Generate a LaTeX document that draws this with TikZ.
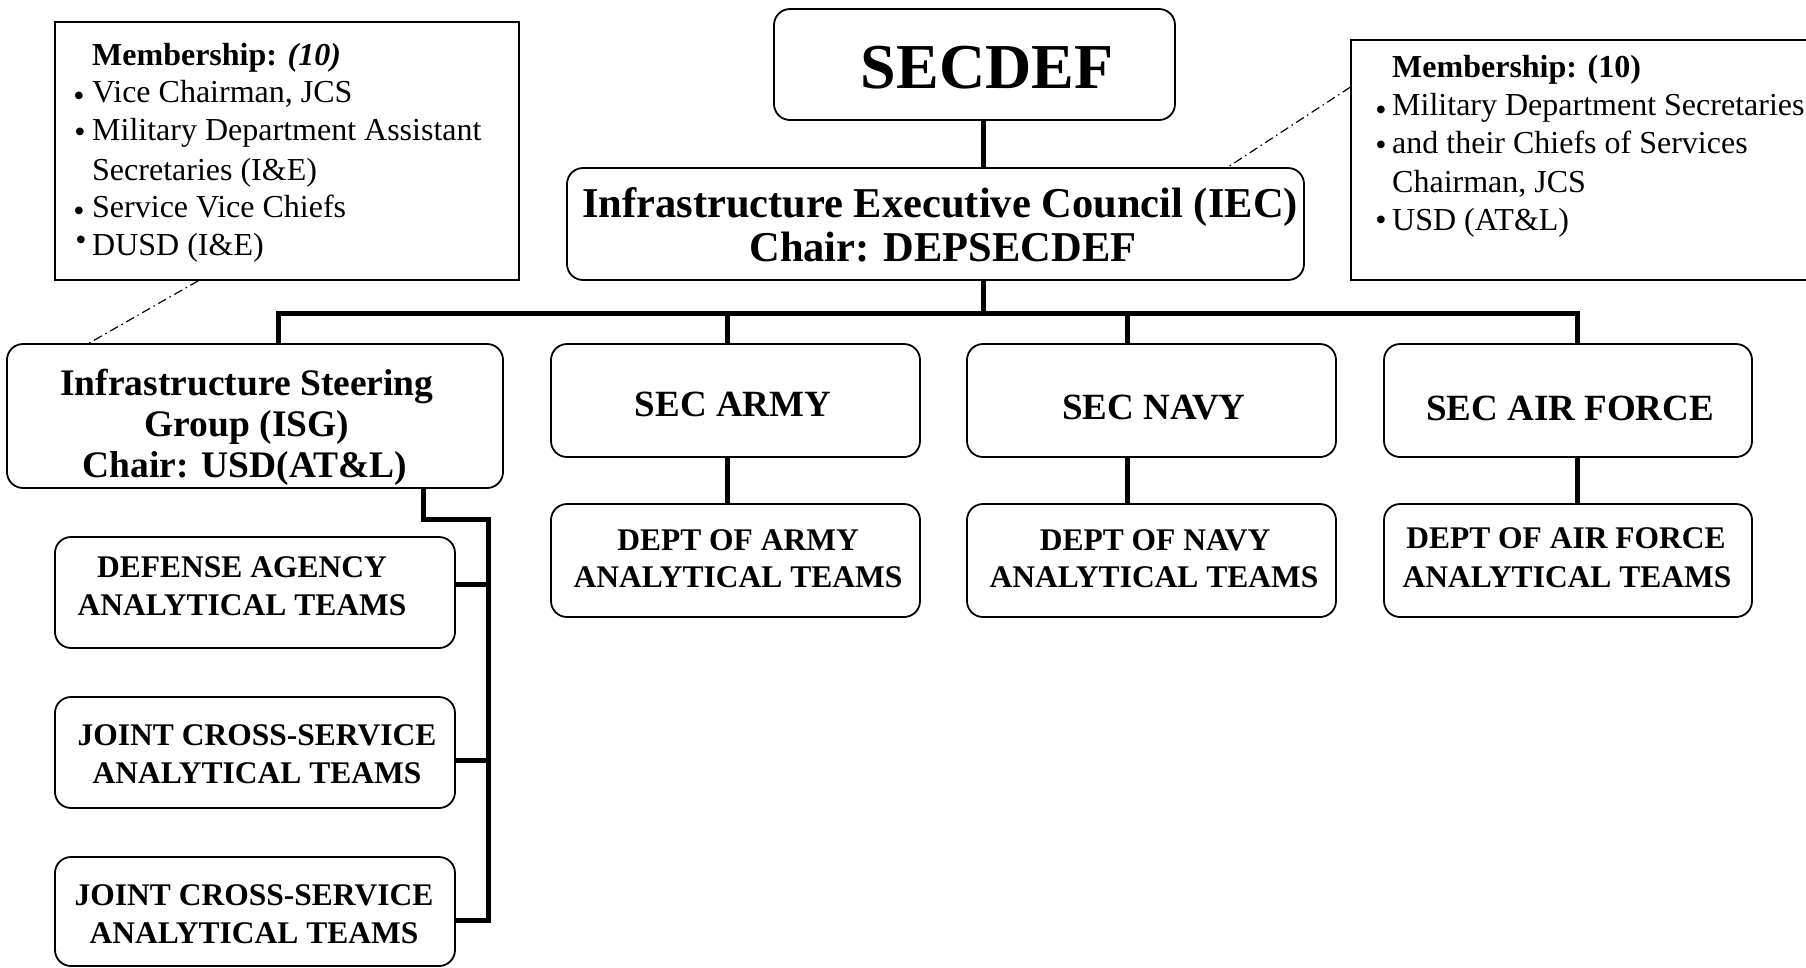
\documentclass[tikz,border=0pt]{standalone}
\usepackage{fontspec}
\setmainfont{Liberation Serif}
\usetikzlibrary{calc}
\newcommand\fsecdef{\fontsize{64}{64}\selectfont\bfseries}
\newcommand\fiec{\fontsize{42.5}{44}\selectfont\bfseries}
\newcommand\fisg{\fontsize{37.5}{41}\selectfont\bfseries}
\newcommand\fsec{\fontsize{37}{40}\selectfont\bfseries}
\newcommand\fteam{\fontsize{31.5}{37}\selectfont\bfseries}
\newcommand\fmem{\fontsize{32}{38}\selectfont}
\newcommand\fbul{\fontsize{32}{32}\selectfont}
\begin{document}
\begin{tikzpicture}[x=1pt,y=-1pt,
  box/.style={draw, line width=1.8pt, rounded corners=16pt, inner sep=0pt, minimum width=369pt, minimum height=113pt},
  membox/.style={draw, line width=1.6pt, inner sep=0pt},
  conn/.style={line width=5pt},
  dd/.style={line width=1.2pt, dash pattern=on 9pt off 4pt on 1.5pt off 4pt},
  lbl/.style={anchor=base, inner sep=0pt},
  lft/.style={anchor=base west, inner sep=0pt, font=\fmem},
  bul/.style={anchor=base, inner sep=0pt, font=\fbul}]
\path[use as bounding box] (0,0) rectangle (1806,967);
\fill[white] (0,0) rectangle (1806,967);
\clip (0,0) rectangle (1806,967);

% boxes
\node[box, minimum width=401pt, minimum height=111pt] (secdef) at (974.5,64.5) {};
\node[box, minimum width=737pt, minimum height=112pt] (iec) at (935.5,224) {};
\node[box, minimum width=496pt, minimum height=144pt] (isg) at (255,416) {};
\node[box] (army) at (735.5,400.5) {};
\node[box] (navy) at (1151.5,400.5) {};
\node[box, minimum width=368pt] (airf) at (1568,400.5) {};
\node[box] (darmy) at (735.5,560.5) {};
\node[box] (dnavy) at (1151.5,560.5) {};
\node[box, minimum width=368pt] (dairf) at (1568,560.5) {};
\node[box, minimum width=400pt, minimum height=111pt] (defag) at (255,592.5) {};
\node[box, minimum width=400pt, minimum height=111pt] (jcs1) at (255,752.5) {};
\node[box, minimum width=400pt, minimum height=109pt] (jcs2) at (255,911.5) {};
\node[membox, minimum width=464pt, minimum height=258pt] (lmem) at (287,151) {};
\node[membox, minimum width=479pt, minimum height=240pt] (rmem) at (1590.5,160) {};

% connectors
\coordinate (spine) at (983,313);
\coordinate (barL) at (278,313);
\coordinate (barR) at (1577,313);
\coordinate (dA) at (727.5,313);
\coordinate (dN) at (1127.5,313);
\draw[conn] (secdef.south -| spine) -- (iec.north -| spine);
\draw[conn] (iec.south -| spine) -- (spine);
\draw[conn] (isg.north -| barL) -- (barL) -- (barR) -- (airf.north -| barR);
\draw[conn] (dA) -- (army.north -| dA);
\draw[conn] (dN) -- (navy.north -| dN);
\draw[conn] (army.south -| dA) -- (darmy.north -| dA);
\draw[conn] (navy.south -| dN) -- (dnavy.north -| dN);
\draw[conn] (airf.south -| barR) -- (dairf.north -| barR);
\coordinate (lsA) at (423,519);
\coordinate (lsB) at (488,519);
\coordinate (lsC) at (488,920);
\coordinate (br1) at (488,584);
\coordinate (br2) at (488,760);
\draw[conn] (isg.south -| lsA) -- (lsA) -- (lsB) -- (lsC) -- (jcs2.east |- lsC);
\draw[conn] (br1) -- (defag.east |- br1);
\draw[conn] (br2) -- (jcs1.east |- br2);

% dash-dot links
\draw[dd] ($(lmem.south west)+(144,0)$) -- ($(isg.north west)+(83,0)$);
\draw[dd] ($(rmem.north west)+(0,48)$) -- ($(iec.north east)+(-77,0)$);

% texts
\node[lbl, font=\fsecdef] (tsecdef) at (987,88) {SECDEF};
\node[lbl, font=\fiec] (tiec1) at (940,217) {Infrastructure Executive Council (IEC)};
\node[lbl, font=\fiec] (tiec2) at (943,261) {Chair: DEPSECDEF};
\node[lbl, font=\fisg] (tisg1) at (247,395) {Infrastructure Steering};
\node[lbl, font=\fisg] (tisg2) at (247,436) {Group (ISG)};
\node[lbl, font=\fisg] (tisg3) at (245,477) {Chair: USD(AT\&L)};
\node[lbl, font=\fsec] (tarmy) at (733,416) {SEC ARMY};
\node[lbl, font=\fsec] (tnavy) at (1154,419) {SEC NAVY};
\node[lbl, font=\fsec] (tairf) at (1570,420) {SEC AIR FORCE};
\node[lbl, font=\fteam] (tda1) at (738,550) {DEPT OF ARMY};
\node[lbl, font=\fteam] (tda2) at (738,587) {ANALYTICAL TEAMS};
\node[lbl, font=\fteam] (tdn1) at (1155,550) {DEPT OF NAVY};
\node[lbl, font=\fteam] (tdn2) at (1154,587) {ANALYTICAL TEAMS};
\node[lbl, font=\fteam] (tdf1) at (1566,548) {DEPT OF AIR FORCE};
\node[lbl, font=\fteam] (tdf2) at (1567,587) {ANALYTICAL TEAMS};
\node[lbl, font=\fteam] (tdef1) at (242,577) {DEFENSE AGENCY};
\node[lbl, font=\fteam] (tdef2) at (242,615) {ANALYTICAL TEAMS};
\node[lbl, font=\fteam] (tj11) at (257,745) {JOINT CROSS-SERVICE};
\node[lbl, font=\fteam] (tj12) at (257,783) {ANALYTICAL TEAMS};
\node[lbl, font=\fteam] (tj21) at (254,905) {JOINT CROSS-SERVICE};
\node[lbl, font=\fteam] (tj22) at (254,943) {ANALYTICAL TEAMS};

% left membership
\node[lft] (lm0) at (92,65) {\bfseries Membership: \textit{(10)}};
\node[bul] (lb1) at (79,106.5) {•};
\node[lft] (lm1) at (92,102) {Vice Chairman, JCS};
\node[bul] (lb2) at (80,142.5) {•};
\node[lft] (lm2) at (92,140) {Military Department Assistant};
\node[lft] (lm3) at (92,180) {Secretaries (I\&E)};
\node[bul] (lb3) at (79,221.5) {•};
\node[lft] (lm4) at (92,217) {Service Vice Chiefs};
\node[bul] (lb4) at (81,250.5) {•};
\node[lft] (lm5) at (92,255) {DUSD (I\&E)};

% right membership
\node[lft] (rm0) at (1392,77) {\bfseries Membership: (10)};
\node[bul] (rb1) at (1381,120.5) {•};
\node[lft] (rm1) at (1392,115) {Military Department Secretaries};
\node[bul] (rb2) at (1381,155.5) {•};
\node[lft] (rm2) at (1392,153) {and their Chiefs of Services};
\node[lft] (rm3) at (1392,192) {Chairman, JCS};
\node[bul] (rb3) at (1381,230.5) {•};
\node[lft] (rm4) at (1392,230) {USD (AT\&L)};
\end{tikzpicture}
\end{document}
